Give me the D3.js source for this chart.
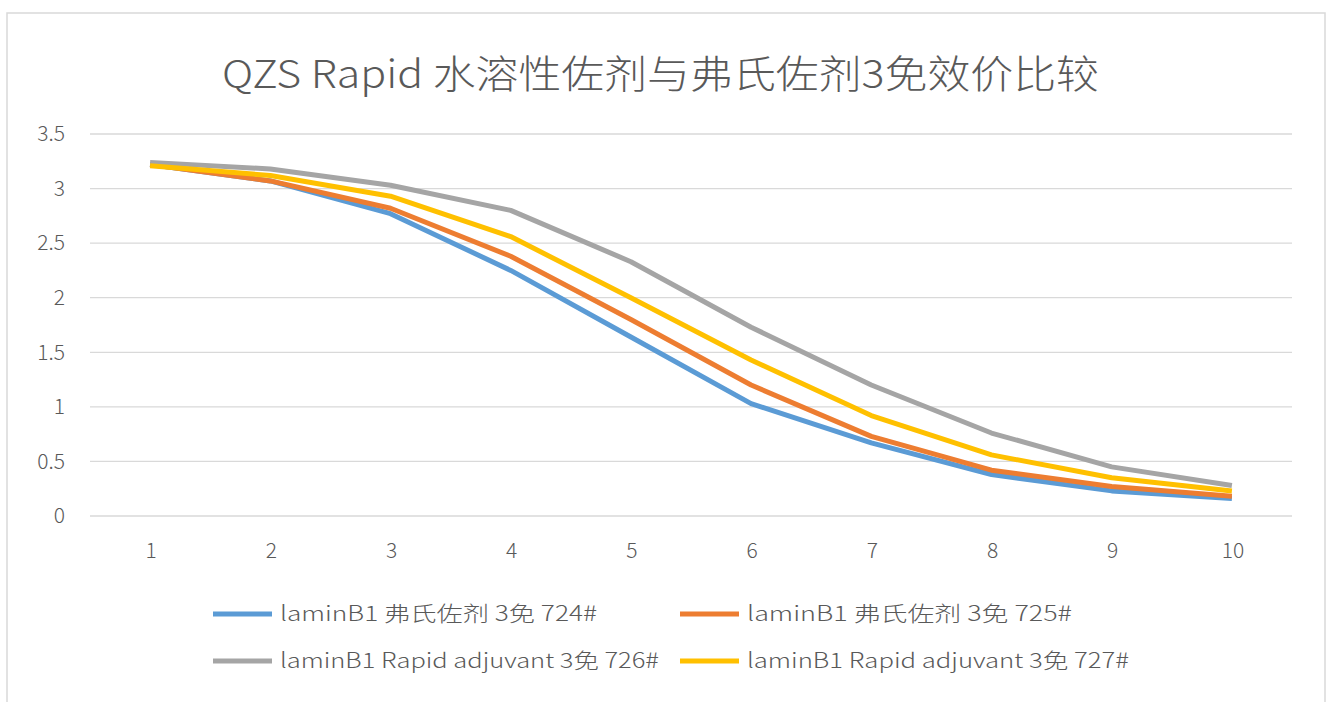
<!DOCTYPE html>
<html>
<head>
<meta charset="utf-8">
<script src="https://cdn.jsdelivr.net/npm/d3@7"></script>
<style>
  body { margin: 0; background: #fff; }
  svg { display: block; }
</style>
</head>
<body>
<div id="chart"></div>
<script>
// values
const categories = ["1", "2", "3", "4", "5", "6", "7", "8", "9", "10"];
const yTicks = [0, 0.5, 1, 1.5, 2, 2.5, 3, 3.5];
const seriesNames = [
  "laminB1 弗氏佐剂 3免 724#",
  "laminB1 弗氏佐剂 3免 725#",
  "laminB1 Rapid adjuvant 3免 726#",
  "laminB1 Rapid adjuvant 3免 727#"
];
const s724 = [3.22, 3.07, 2.77, 2.25, 1.64, 1.03, 0.67, 0.38, 0.23, 0.16];
const s725 = [3.22, 3.07, 2.82, 2.38, 1.80, 1.20, 0.73, 0.42, 0.27, 0.18];
const s726 = [3.24, 3.18, 3.03, 2.80, 2.33, 1.73, 1.20, 0.76, 0.45, 0.28];
const s727 = [3.21, 3.12, 2.93, 2.56, 2.00, 1.43, 0.92, 0.56, 0.35, 0.23];
const colors = ["#5B9BD5", "#ED7D31", "#A5A5A5", "#FFC000"];
const title = "QZS Rapid 水溶性佐剂与弗氏佐剂3免效价比较";

const allSeries = [s724, s725, s726, s727];

const width = 1330;
const height = 702;
const font = "'Noto Sans CJK SC', 'Noto Sans', sans-serif";
const textColor = "#595959";

const svg = d3.select("#chart")
  .append("svg")
  .attr("width", width)
  .attr("height", height);

// chart frame
svg.append("rect")
  .attr("x", 7)
  .attr("y", 13)
  .attr("width", 1318)
  .attr("height", 720)
  .attr("fill", "#fff")
  .attr("stroke", "#d9d9d9")
  .attr("stroke-width", 1.5);

svg.append("text")
  .attr("x", 222)
  .attr("y", 88)
  .attr("font-family", font)
  .attr("font-weight", 300)
  .attr("font-size", 39)
  .attr("fill", textColor)
  .attr("textLength", 877)
  .attr("lengthAdjust", "spacingAndGlyphs")
  .text(title);

const x = d3.scaleBand()
  .domain(categories)
  .range([90, 1292]);

const y = d3.scaleLinear()
  .domain([0, 3.5])
  .range([516, 134]);

// gridlines
svg.append("g")
  .selectAll("line")
  .data(yTicks)
  .join("line")
    .attr("x1", 90)
    .attr("x2", 1292)
    .attr("y1", d => y(d))
    .attr("y2", d => y(d))
    .attr("stroke", "#d9d9d9")
    .attr("stroke-width", 1.3);

// y axis labels
const yAxis = svg.append("g")
  .attr("transform", "translate(65,0)")
  .call(d3.axisLeft(y).tickValues(yTicks).tickSize(0).tickPadding(0).tickFormat(d3.format("")));
yAxis.select(".domain").remove();
yAxis.selectAll("text")
  .attr("font-family", font)
  .attr("font-weight", 300)
  .attr("font-size", 21)
  .attr("fill", textColor);

// x axis labels
const xAxis = svg.append("g")
  .attr("transform", "translate(1,543)")
  .call(d3.axisBottom(x).tickSize(0).tickPadding(0));
xAxis.select(".domain").remove();
xAxis.selectAll("text")
  .attr("font-family", font)
  .attr("font-weight", 300)
  .attr("font-size", 21)
  .attr("fill", textColor);

const line = d3.line()
  .x((d, i) => x(categories[i]) + x.bandwidth() / 2)
  .y(d => y(d));

svg.append("g")
  .selectAll("path")
  .data(allSeries)
  .join("path")
    .attr("fill", "none")
    .attr("stroke", (d, i) => colors[i])
    .attr("stroke-width", 5)
    .attr("stroke-linejoin", "round")
    .attr("stroke-linecap", "butt")
    .attr("d", line);

// legend, two columns
const legendPos = [[213, 614], [680, 614], [213, 661], [680, 661]];
const legendWidths = [317, 325, 379, 382];
const legend = svg.append("g")
  .selectAll("g")
  .data(seriesNames)
  .join("g")
    .attr("transform", (d, i) => `translate(${legendPos[i][0]},${legendPos[i][1]})`);

legend.append("line")
  .attr("x1", 0)
  .attr("x2", 59)
  .attr("stroke", (d, i) => colors[i])
  .attr("stroke-width", 5);

legend.append("text")
  .attr("x", 67)
  .attr("dy", "0.35em")
  .attr("font-family", font)
  .attr("font-weight", 300)
  .attr("font-size", 21)
  .attr("fill", textColor)
  .attr("textLength", (d, i) => legendWidths[i])
  .attr("lengthAdjust", "spacingAndGlyphs")
  .text(d => d);
</script>
</body>
</html>
